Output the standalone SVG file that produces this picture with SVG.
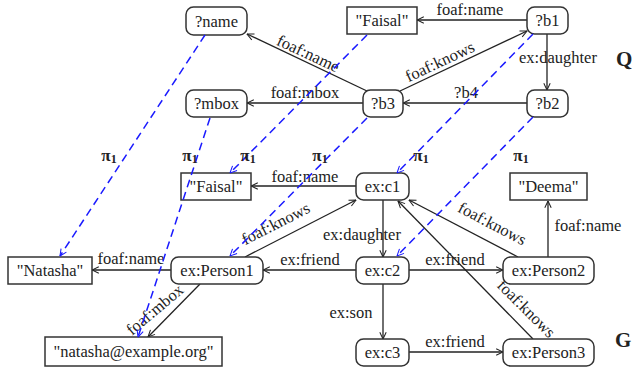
<svg xmlns="http://www.w3.org/2000/svg" width="633" height="376" viewBox="0 0 633 376">
<defs>
<marker id="arr" viewBox="0 0 10 10" refX="9.5" refY="5" markerWidth="8" markerHeight="8" markerUnits="userSpaceOnUse" orient="auto">
<path d="M1,1 L9.5,5 L1,9" fill="none" stroke="#222" stroke-width="1.3"/>
</marker>
<marker id="barr" viewBox="0 0 10 10" refX="9.5" refY="5" markerWidth="8" markerHeight="8" markerUnits="userSpaceOnUse" orient="auto">
<path d="M1,1 L9.5,5 L1,9" fill="none" stroke="#1a1aff" stroke-width="1.3"/>
</marker>
<style>
.n rect{fill:#fff;stroke:#333;stroke-width:1.5}
.r rect{rx:7.5px;ry:7.5px}
text{font-family:"Liberation Serif","Times New Roman",serif;fill:#222}
.t{font-size:16.5px;text-anchor:middle}
.l{font-size:16.5px;text-anchor:middle}
.e{fill:none;stroke:#222;stroke-width:1.3;marker-end:url(#arr)}
.m{fill:none;stroke:#1a1aff;stroke-width:1.5;stroke-dasharray:8 5;marker-end:url(#barr)}
.p{font-size:17px;font-weight:bold;text-anchor:middle}
.big{font-size:21px;font-weight:bold}
</style>
</defs>
<rect width="633" height="376" fill="#fff"/>

<g id="edges">
<path class="e" d="M527,20 L417,20"/>
<path class="e" d="M367,91 L247,34"/>
<path class="e" d="M400,91 L527,31"/>
<path class="e" d="M363,103 L247,103"/>
<path class="e" d="M547,34 L547,90"/>
<path class="e" d="M527,103 L403,103"/>
<path class="e" d="M356,186 L251,186"/>
<path class="e" d="M245,257 L356,200"/>
<path class="e" d="M383,200 L383,257"/>
<path class="e" d="M356,270 L263,270"/>
<path class="e" d="M171,270 L92,270"/>
<path class="e" d="M200,284 L148,337"/>
<path class="e" d="M409,270 L503,270"/>
<path class="e" d="M548,257 L548,201"/>
<path class="e" d="M518,257 L409,200"/>
<path class="e" d="M533,339 L398,201"/>
<path class="e" d="M383,284 L383,339"/>
<path class="e" d="M409,352 L503,352"/>
<text class="l" x="470" y="15">foaf:name</text>
<text class="l" x="308" y="59" transform="rotate(25 308 54)">foaf:name</text>
<text class="l" x="440" y="67" transform="rotate(-25 440 62)">foaf:knows</text>
<text class="l" x="305" y="98">foaf:mbox</text>
<text class="l" x="558" y="63">ex:daughter</text>
<text class="l" x="466" y="98">?b4</text>
<text class="l" x="305" y="182">foaf:name</text>
<text class="l" x="276" y="229" transform="rotate(-27 276 224)">foaf:knows</text>
<text class="l" x="362" y="240">ex:daughter</text>
<text class="l" x="310" y="265">ex:friend</text>
<text class="l" x="131" y="264">foaf:name</text>
<text class="l" x="155" y="315" transform="rotate(-40 155 310)">foaf:mbox</text>
<text class="l" x="455" y="265">ex:friend</text>
<text class="l" x="588" y="231">foaf:name</text>
<text class="l" x="492" y="229" transform="rotate(27.6 492 224)">foaf:knows</text>
<text class="l" x="526" y="314" transform="rotate(45 526 309)">foaf:knows</text>
<text class="l" x="351" y="318">ex:son</text>
<text class="l" x="455" y="347">ex:friend</text>
</g>

<g id="q-name" class="n r"><rect x="186" y="7" width="61" height="28"/><text class="t" x="216.5" y="26.5">?name</text></g>
<g id="q-faisal" class="n"><rect x="347" y="7" width="70" height="27"/><text class="t" x="382" y="26">"Faisal"</text></g>
<g id="q-b1" class="n r"><rect x="527" y="7" width="41" height="27"/><text class="t" x="547.5" y="26">?b1</text></g>
<g id="q-mbox" class="n r"><rect x="186" y="90" width="61" height="27"/><text class="t" x="216.5" y="109">?mbox</text></g>
<g id="q-b3" class="n r"><rect x="363" y="90" width="40" height="27"/><text class="t" x="383" y="109">?b3</text></g>
<g id="q-b2" class="n r"><rect x="527" y="90" width="41" height="27"/><text class="t" x="547.5" y="109">?b2</text></g>

<g id="g-faisal" class="n"><rect x="181" y="173" width="70" height="27"/><text class="t" x="216" y="192">"Faisal"</text></g>
<g id="g-c1" class="n r"><rect x="356" y="173" width="53" height="27"/><text class="t" x="382.5" y="192">ex:c1</text></g>
<g id="g-deema" class="n"><rect x="510" y="173" width="77" height="27"/><text class="t" x="548.5" y="192">"Deema"</text></g>
<g id="g-natasha" class="n"><rect x="8" y="257" width="84" height="27"/><text class="t" x="50" y="276">"Natasha"</text></g>
<g id="g-person1" class="n r"><rect x="171" y="257" width="92" height="27"/><text class="t" x="217" y="276">ex:Person1</text></g>
<g id="g-c2" class="n r"><rect x="356" y="257" width="53" height="27"/><text class="t" x="382.5" y="276">ex:c2</text></g>
<g id="g-person2" class="n r"><rect x="503" y="257" width="91" height="27"/><text class="t" x="548.5" y="276">ex:Person2</text></g>
<g id="g-mail" class="n"><rect x="45" y="337" width="177" height="29"/><text class="t" x="133.5" y="357">"natasha@example.org"</text></g>
<g id="g-c3" class="n r"><rect x="356" y="339" width="53" height="27"/><text class="t" x="382.5" y="358">ex:c3</text></g>
<g id="g-person3" class="n r"><rect x="503" y="339" width="91" height="27"/><text class="t" x="548.5" y="358">ex:Person3</text></g>

<g id="mappings">
<path class="m" d="M205,35 L60,256"/>
<path class="m" d="M210,118 L138,337"/>
<path class="m" d="M367,35 L230,173"/>
<path class="m" d="M367,118 L230,256"/>
<path class="m" d="M533,34 L397,173"/>
<path class="m" d="M533,117 L397,256"/>
<text class="p" x="109" y="161">π<tspan font-size="12" dy="2">1</tspan></text>
<text class="p" x="190" y="161">π<tspan font-size="12" dy="2">1</tspan></text>
<text class="p" x="248" y="161">π<tspan font-size="12" dy="2">1</tspan></text>
<text class="p" x="320" y="161">π<tspan font-size="12" dy="2">1</tspan></text>
<text class="p" x="421" y="161">π<tspan font-size="12" dy="2">1</tspan></text>
<text class="p" x="521" y="161">π<tspan font-size="12" dy="2">1</tspan></text>
</g>

<text class="big" x="616" y="66">Q</text>
<text class="big" x="615" y="347">G</text>
</svg>
